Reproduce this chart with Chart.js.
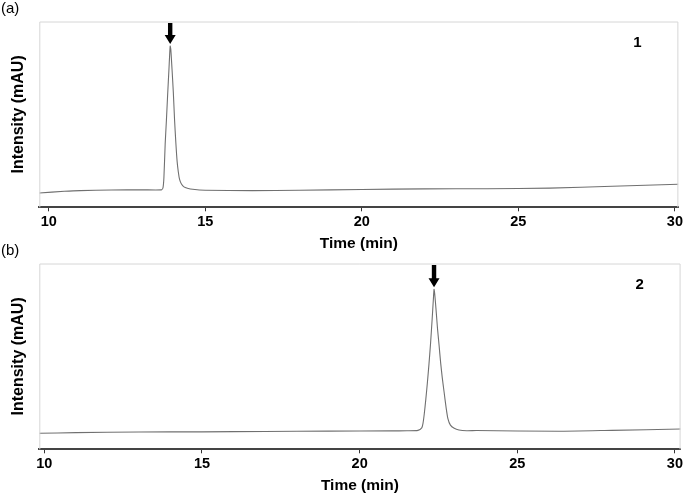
<!DOCTYPE html>
<html>
<head>
<meta charset="utf-8">
<script src="https://cdn.jsdelivr.net/npm/chart.js@4.4.1/dist/chart.umd.min.js"></script>
<style>
  html, body { margin: 0; padding: 0; background: #fff; }
  #wrap { position: relative; width: 685px; height: 497px; overflow: hidden; }
  .panel { position: absolute; left: 0; width: 685px; height: 255px; }
</style>
</head>
<body>
<div id="wrap">
  <div class="panel" style="top:0px"><canvas id="chartA"></canvas></div>
  <div class="panel" style="top:242px"><canvas id="chartB"></canvas></div>
</div>
<script>
// chromatogram traces (time in min, intensity in arbitrary mAU)
var timeA = [9.7, 10.5, 11.0, 12.0, 13.0, 13.6, 13.65, 13.68, 13.72, 13.76, 13.80, 13.84, 13.86, 13.88,
  13.90, 13.94, 13.98, 14.02, 14.06, 14.10, 14.14, 14.18, 14.24, 14.32, 14.43, 14.6, 15.0, 16.5, 18.0,
  20.0, 22.0, 24.0, 26.0, 28.0, 30.11];
var intensityA = [7.7, 8.6, 9.0, 9.3, 9.4, 9.4, 10.5, 16, 34, 47, 61, 74, 81, 86.8,
  85, 74, 62, 47, 35, 25, 19, 15, 12.5, 11, 10.3, 9.7, 9.2, 9.0, 9.2,
  9.6, 9.9, 10.0, 10.3, 11.3, 12.4];

var timeB = [9.84, 11.0, 13.0, 15.0, 17.0, 19.0, 21.0, 21.5, 21.85, 21.97, 22.01, 22.05, 22.10, 22.15,
  22.20, 22.25, 22.30, 22.34, 22.36, 22.38, 22.42, 22.47, 22.52, 22.57, 22.62, 22.68, 22.74, 22.80,
  22.88, 23.0, 23.15, 23.4, 23.7, 26.3, 28.0, 30.18];
var intensityB = [8.6, 9.0, 9.3, 9.4, 9.6, 9.8, 9.9, 10.0, 10.2, 11.5, 14, 19, 27, 36,
  46, 57, 70, 81, 86.1, 84, 76, 65, 56, 46.5, 38.7, 30.7, 22.8, 16.5,
  13, 11.3, 10.4, 10.0, 10.1, 9.7, 10.2, 10.9];

var tickValues = [10, 15, 20, 25, 30];
var panelLabels = ['(a)', '(b)'];
var peakLabels = ['1', '2'];

var FONT = "'Liberation Sans', Arial, sans-serif";

var panelMarks = {
  id: 'panelMarks',
  afterDatasetsDraw: function(chart, args, opts) {
    var ctx = chart.ctx;
    var a = chart.chartArea;
    ctx.save();
    // light frame on top, left and right
    ctx.strokeStyle = '#d6d6d6';
    ctx.lineWidth = 1;
    ctx.beginPath();
    ctx.moveTo(a.left + 0.5, a.bottom);
    ctx.lineTo(a.left + 0.5, a.top + 0.5);
    ctx.lineTo(a.right - 0.5, a.top + 0.5);
    ctx.lineTo(a.right - 0.5, a.bottom);
    ctx.stroke();

    // arrow over the peak
    var ds = chart.data.datasets[0].data;
    var best = ds[0];
    for (var i = 1; i < ds.length; i++) {
      if (ds[i].y > best.y) best = ds[i];
    }
    var px = chart.scales.x.getPixelForValue(best.x);
    var py = chart.scales.y.getPixelForValue(best.y);
    var tip = py - 2, top = a.top + 1.5;
    ctx.fillStyle = '#000';
    ctx.beginPath();
    ctx.moveTo(px - 2.2, top);
    ctx.lineTo(px + 2.2, top);
    ctx.lineTo(px + 2.2, tip - 9);
    ctx.lineTo(px + 5.5, tip - 9);
    ctx.lineTo(px, tip);
    ctx.lineTo(px - 5.5, tip - 9);
    ctx.lineTo(px - 2.2, tip - 9);
    ctx.closePath();
    ctx.fill();

    // compound number
    ctx.font = 'bold 15px ' + FONT;
    ctx.textAlign = 'center';
    ctx.textBaseline = 'middle';
    ctx.fillText(opts.peak, a.right - 41, a.top + 21.5);

    // panel letter
    ctx.font = '15px ' + FONT;
    ctx.textAlign = 'left';
    ctx.fillText(opts.panel, 1, 9);
    ctx.restore();
  }
};

function makeChart(id, times, values, xMin, xMax, idx) {
  var pts = [];
  for (var i = 0; i < times.length; i++) pts.push({x: times[i], y: values[i]});
  return new Chart(document.getElementById(id), {
    type: 'line',
    data: {
      datasets: [{
        data: pts,
        borderColor: '#707070',
        borderWidth: 1.1,
        pointRadius: 0,
        tension: 0.2,
        fill: false
      }]
    },
    options: {
      responsive: true,
      maintainAspectRatio: false,
      animation: false,
      events: [],
      layout: { padding: { top: 21.5, right: 3.3, left: 0, bottom: 0 } },
      plugins: {
        legend: { display: false },
        tooltip: { enabled: false },
        panelMarks: { panel: panelLabels[idx], peak: peakLabels[idx] }
      },
      scales: {
        x: {
          type: 'linear',
          min: xMin,
          max: xMax,
          afterBuildTicks: function(scale) {
            scale.ticks = tickValues.map(function(v) { return {value: v}; });
          },
          afterFit: function(scale) { scale.height = 47.7; },
          grid: { display: true, drawOnChartArea: false, drawTicks: true, tickLength: 4, color: '#333', lineWidth: 1 },
          border: { display: true, color: '#444', width: 2 },
          ticks: { color: '#000', font: { family: FONT, size: 14.5, weight: 'bold' }, padding: 2, maxRotation: 0 },
          title: {
            display: true,
            text: 'Time (min)',
            color: '#000',
            font: { family: FONT, size: 15.5, weight: 'bold' },
            padding: { top: 0, bottom: 1.7 }
          }
        },
        y: {
          min: 0,
          max: 100,
          afterFit: function(scale) { scale.width = 39.3; },
          grid: { display: false },
          border: { display: false },
          ticks: { display: false },
          title: {
            display: true,
            text: 'Intensity (mAU)',
            color: '#000',
            font: { family: FONT, size: 16, weight: 'bold' },
            padding: { top: 8.7, bottom: 0 }
          }
        }
      }
    },
    plugins: [panelMarks]
  });
}

makeChart('chartA', timeA, intensityA, 9.7, 30.11, 0);
makeChart('chartB', timeB, intensityB, 9.84, 30.18, 1);
</script>
</body>
</html>
